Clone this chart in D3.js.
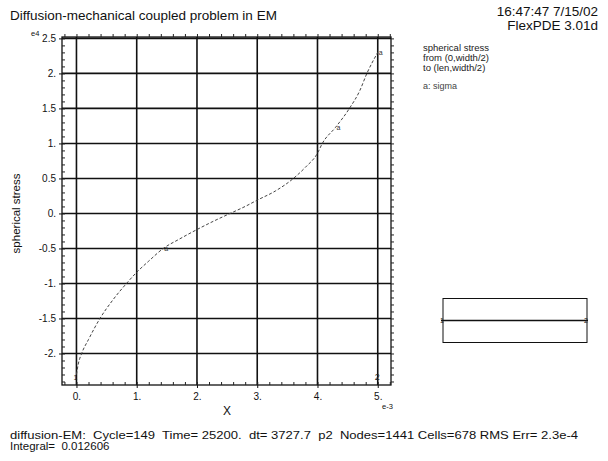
<!DOCTYPE html>
<html>
<head>
<meta charset="utf-8">
<script src="https://cdn.jsdelivr.net/npm/d3@7/dist/d3.min.js"></script>
<style>
  html, body { margin: 0; padding: 0; background: #fff; }
  svg { display: block; font-family: Arial, "Liberation Sans", sans-serif; }
  text { white-space: pre; }
</style>
</head>
<body>
<svg id="chart" width="608" height="461"></svg>
<script>
// Spherical stress along the centre line (units: x in e-3, stress in e4)
const xPos = [0, 0.03, 0.086, 0.2, 0.39, 0.6, 0.83, 1.0, 1.2, 1.44, 1.7, 2.0, 2.3, 2.55, 2.8, 3.0, 3.3, 3.6, 3.8, 4.0, 4.08, 4.3, 4.53, 4.7, 4.82, 5.0];
const sigma = [-2.3, -2.15, -2.0, -1.8, -1.5, -1.24, -1.0, -0.84, -0.68, -0.5, -0.37, -0.23, -0.1, 0.0, 0.1, 0.19, 0.32, 0.5, 0.66, 0.86, 1.0, 1.23, 1.5, 1.75, 2.0, 2.3];
const xTicks = [0, 1, 2, 3, 4, 5];
const xTickLabels = ["0.", "1.", "2.", "3.", "4.", "5."];
const yTicks = [-2, -1.5, -1, -0.5, 0, 0.5, 1, 1.5, 2, 2.5];
const yTickLabels = ["-2.", "-1.5", "-1.", "-0.5", "0.", "0.5", "1.", "1.5", "2.", "2.5"];
const curveTagX = [1.44, 4.3, 5.0];
const legendLines = ["spherical stress", "from (0,width/2)", "to (len,width/2)"];
const footerLines = [
  "diffusion-EM:  Cycle=149  Time= 25200.  dt= 3727.7  p2  Nodes=1441 Cells=678 RMS Err= 2.3e-4",
  "Integral=  0.012606"
];

const svg = d3.select("#chart");
const plot = { left: 62, right: 391, top: 37, bottom: 385 };

const x = d3.scaleLinear().domain([-0.24, 5.22]).range([plot.left, plot.right]);
const y = d3.scaleLinear().domain([-2.45, 2.52]).range([plot.bottom, plot.top]);

// Header
svg.append("text").attr("x", 10).attr("y", 20).attr("font-size", 13.5).attr("fill", "#111")
  .text("Diffusion-mechanical coupled problem in EM");
svg.append("text").attr("x", 598).attr("y", 16).attr("font-size", 13.5).attr("text-anchor", "end").attr("fill", "#111")
  .text("16:47:47 7/15/02");
svg.append("text").attr("x", 598).attr("y", 30).attr("font-size", 13.5).attr("text-anchor", "end").attr("fill", "#111")
  .text("FlexPDE 3.01d");

// Grid
const grid = svg.append("g").attr("stroke", "#111").attr("stroke-width", 1.6);
grid.selectAll("line.v").data(xTicks).join("line")
  .attr("x1", d => x(d)).attr("x2", d => x(d))
  .attr("y1", plot.top).attr("y2", plot.bottom);
grid.selectAll("line.h").data(yTicks).join("line")
  .attr("x1", plot.left).attr("x2", plot.right)
  .attr("y1", d => y(d)).attr("y2", d => y(d));

// Frame
svg.append("rect").attr("x", plot.left).attr("y", plot.top)
  .attr("width", plot.right - plot.left).attr("height", plot.bottom - plot.top)
  .attr("fill", "none").attr("stroke", "#111").attr("stroke-width", 1.3);

// Minor ticks on every side
const xMinor = d3.range(-0.2, 5.21, 0.2);
const yMinor = d3.range(-2.4, 2.51, 0.1);
const axB = svg.append("g").attr("transform", `translate(0,${plot.bottom})`)
  .call(d3.axisTop(x).tickValues(xMinor).tickSize(3).tickFormat(""));
const axT = svg.append("g").attr("transform", `translate(0,${plot.top})`)
  .call(d3.axisTop(x).tickValues(xMinor).tickSize(3).tickFormat(""));
const axL = svg.append("g").attr("transform", `translate(${plot.left},0)`)
  .call(d3.axisRight(y).tickValues(yMinor).tickSize(3).tickFormat(""));
const axR = svg.append("g").attr("transform", `translate(${plot.right},0)`)
  .call(d3.axisRight(y).tickValues(yMinor).tickSize(3).tickFormat(""));
[axB, axT, axL, axR].forEach(g => {
  g.select(".domain").remove();
  g.selectAll("line").attr("stroke", "#222").attr("stroke-width", 1);
});

// Major tick labels
const xl = svg.append("g").attr("transform", `translate(0,${plot.bottom})`)
  .call(d3.axisBottom(x).tickValues(xTicks).tickSize(3)
    .tickFormat((d, i) => xTickLabels[i]));
xl.select(".domain").remove();
xl.selectAll("line").attr("stroke", "#111");
xl.selectAll("text").attr("font-size", 10).attr("font-family", "Arial, sans-serif")
  .attr("fill", "#111").attr("dy", "0.9em");

const yl = svg.append("g").attr("transform", `translate(${plot.left},0)`)
  .call(d3.axisLeft(y).tickValues(yTicks).tickSize(3)
    .tickFormat((d, i) => yTickLabels[i]));
yl.select(".domain").remove();
yl.selectAll("line").attr("stroke", "#111");
yl.selectAll("text").attr("font-size", 10).attr("font-family", "Arial, sans-serif")
  .attr("fill", "#111");

// Exponent markers
svg.append("text").attr("x", 31).attr("y", 36).attr("font-size", 7.5).attr("fill", "#111").text("e4");
svg.append("text").attr("x", 382).attr("y", 409).attr("font-size", 7.5).attr("fill", "#111").text("e-3");

// Axis titles
svg.append("text").attr("x", x(2.5)).attr("y", 415).attr("font-size", 12).attr("text-anchor", "middle")
  .attr("fill", "#111").text("X");
svg.append("text").attr("transform", `translate(20,${y(0)}) rotate(-90)`)
  .attr("font-size", 11.5).attr("text-anchor", "middle").attr("fill", "#111").text("spherical stress");

// Curve
const pts = xPos.map((v, i) => [v, sigma[i]]);
svg.append("path").datum(pts)
  .attr("fill", "none").attr("stroke", "#444").attr("stroke-width", 1)
  .attr("stroke-dasharray", "3,2")
  .attr("d", d3.line().x(d => x(d[0])).y(d => y(d[1])).curve(d3.curveMonotoneX));

// Curve tags
svg.selectAll("text.tag").data(curveTagX).join("text")
  .attr("x", d => x(d) + 1)
  .attr("y", d => y(sigma[xPos.indexOf(d)]) + 3)
  .attr("font-size", 7).attr("fill", "#333").text("a");
svg.append("text").attr("x", x(0) - 3).attr("y", plot.bottom - 5).attr("font-size", 7).attr("fill", "#222").text("1");
svg.append("text").attr("x", x(5) - 3).attr("y", plot.bottom - 5).attr("font-size", 9).attr("fill", "#222").text("2");

// Legend
svg.selectAll("text.leg").data(legendLines).join("text")
  .attr("x", 423).attr("y", (d, i) => 51 + i * 10)
  .attr("font-size", 9.5).attr("fill", "#222").text(d => d);
svg.append("text").attr("x", 423).attr("y", 89).attr("font-size", 9).attr("fill", "#444").text("a: sigma");

// Domain sketch with the cut line
const sk = svg.append("g");
sk.append("rect").attr("x", 443).attr("y", 298.5).attr("width", 144).attr("height", 44)
  .attr("fill", "none").attr("stroke", "#111").attr("stroke-width", 1);
sk.append("line").attr("x1", 441).attr("x2", 588).attr("y1", 320.5).attr("y2", 320.5)
  .attr("stroke", "#111").attr("stroke-width", 1.4);
sk.append("text").attr("x", 440).attr("y", 323).attr("font-size", 7).attr("fill", "#222").text("1");
sk.append("text").attr("x", 584).attr("y", 323).attr("font-size", 7).attr("fill", "#222").text("2");

// Footer
const footSizes = [568, null];
svg.selectAll("text.foot").data(footerLines).join("text")
  .attr("x", 10).attr("y", (d, i) => 439 + i * 11)
  .attr("font-size", 11.5).attr("fill", "#111")
  .attr("textLength", (d, i) => footSizes[i])
  .attr("lengthAdjust", "spacingAndGlyphs")
  .text(d => d);
</script>
</body>
</html>
